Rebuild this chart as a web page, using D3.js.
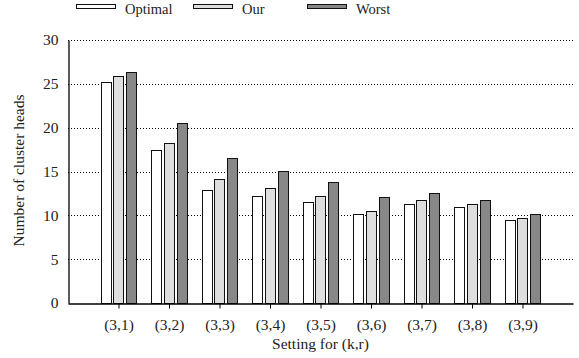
<!DOCTYPE html>
<html>
<head>
<meta charset="utf-8">
<script src="https://cdn.jsdelivr.net/npm/d3@7"></script>
<style>
  html, body { margin: 0; padding: 0; background: #fff; }
  svg { display: block; }
</style>
</head>
<body>
<svg id="chart" width="579" height="358"></svg>
<script>
// Settings (k,r) along the x axis
const categories = ["(3,1)", "(3,2)", "(3,3)", "(3,4)", "(3,5)", "(3,6)", "(3,7)", "(3,8)", "(3,9)"];
// Number of cluster heads per setting
const optimal = [25.2, 17.4, 12.9, 12.2, 11.5, 10.1, 11.3, 11.0, 9.45];
const our     = [25.9, 18.2, 14.1, 13.1, 12.2, 10.5, 11.7, 11.3, 9.75];
const worst   = [26.3, 20.5, 16.5, 15.1, 13.8, 12.1, 12.5, 11.8, 10.1];
const seriesNames = ["Optimal", "Our", "Worst"];
const seriesFills = ["#ffffff", "#dedede", "#888888"];
const yTicks = [0, 5, 10, 15, 20, 25, 30];

const series = [optimal, our, worst];
const FONT = "'Liberation Serif', 'DejaVu Serif', serif";
const FONT_SIZE = 15.5;
const LEGEND_FONT_SIZE = 14.5;
const textColor = "#222";

const svg = d3.select("#chart");
const plotLeft = 68, plotRight = 573, plotTop = 40, plotBottom = 303;

// Categories sit at positions 1..9 on a 0..10 linear axis
const x = d3.scaleLinear().domain([0, categories.length + 1]).range([plotLeft, plotRight]);
const y = d3.scaleLinear().domain([0, 30]).range([plotBottom, plotTop]);

const barW = 0.2;      // bar width in axis units
const barStep = 0.25;  // offset between bars of one group

// Dotted horizontal grid
svg.append("g")
  .selectAll("line")
  .data(yTicks.filter(d => d > 0))
  .join("line")
  .attr("x1", plotLeft).attr("x2", plotRight)
  .attr("y1", d => Math.round(y(d)) + 0.5).attr("y2", d => Math.round(y(d)) + 0.5)
  .attr("stroke", "#000")
  .attr("stroke-width", 1)
  .attr("stroke-dasharray", "1,2");

// Bars
series.forEach((vals, si) => {
  svg.append("g")
    .selectAll("rect")
    .data(vals)
    .join("rect")
    .attr("x", (d, i) => Math.round(x(i + 1 + (si - 1) * barStep - barW / 2)) + 0.5)
    .attr("width", Math.round(x(barW) - x(0)))
    .attr("y", d => Math.round(y(d)) + 0.5)
    .attr("height", d => plotBottom - Math.round(y(d)))
    .attr("fill", seriesFills[si])
    .attr("stroke", "#111")
    .attr("stroke-width", 1);
});

// Y axis
const yAxis = svg.append("g")
  .attr("transform", `translate(${plotLeft + 0.5},0)`)
  .call(d3.axisLeft(y).tickValues(yTicks).tickSize(0).tickPadding(10))
  .attr("font-family", FONT).attr("font-size", FONT_SIZE);
yAxis.select(".domain").attr("stroke", "#000").attr("stroke-width", 1.3);
yAxis.selectAll("text").attr("fill", textColor);

// X axis
const xAxis = svg.append("g")
  .attr("transform", `translate(0,${plotBottom + 0.5})`)
  .call(d3.axisBottom(x)
    .tickValues(d3.range(1, categories.length + 1))
    .tickFormat(d => categories[d - 1])
    .tickSize(5).tickSizeOuter(0).tickPadding(10))
  .attr("font-family", FONT).attr("font-size", FONT_SIZE);
xAxis.select(".domain").attr("stroke", "#000").attr("stroke-width", 1.3);
xAxis.selectAll(".tick line").attr("stroke", "#000");
xAxis.selectAll("text").attr("fill", textColor);

// Axis titles
svg.append("text")
  .attr("x", (plotLeft + plotRight) / 2).attr("y", 349)
  .attr("text-anchor", "middle")
  .attr("font-family", FONT).attr("font-size", FONT_SIZE).attr("fill", textColor)
  .text("Setting for (k,r)");

svg.append("text")
  .attr("transform", `translate(24,${(plotTop + plotBottom) / 2 - 1}) rotate(-90)`)
  .attr("text-anchor", "middle")
  .attr("font-family", FONT).attr("font-size", FONT_SIZE).attr("fill", textColor)
  .text("Number of cluster heads");

// Legend
const legendX = [76, 193, 307];
const legend = svg.append("g");
seriesNames.forEach((name, i) => {
  legend.append("rect")
    .attr("x", legendX[i] + 0.5).attr("y", 4.5)
    .attr("width", 39).attr("height", 4)
    .attr("fill", seriesFills[i])
    .attr("stroke", "#111").attr("stroke-width", 1);
  legend.append("text")
    .attr("x", legendX[i] + 49).attr("y", 13.5)
    .attr("font-family", FONT).attr("font-size", LEGEND_FONT_SIZE).attr("fill", textColor)
    .text(name);
});
</script>
</body>
</html>
